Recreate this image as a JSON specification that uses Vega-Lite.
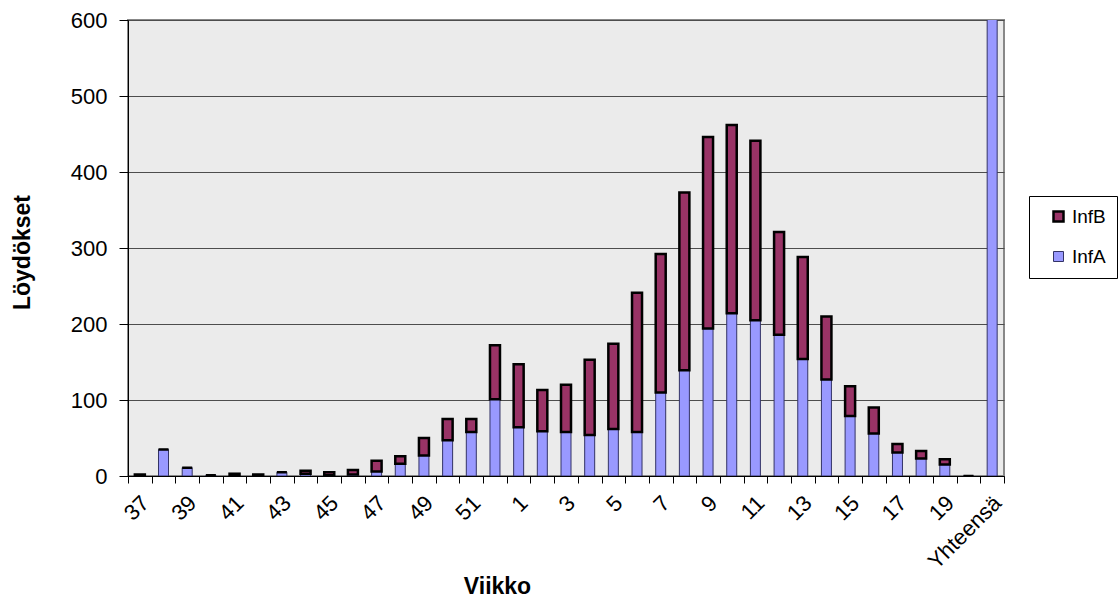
{
  "$schema": "https://vega.github.io/schema/vega-lite/v6.json",
  "width": 876,
  "height": 456,
  "autosize": {"type": "none"},
  "padding": {"left": 128, "top": 20, "right": 114, "bottom": 123},
  "background": "white",
  "config": {
    "font": "Liberation Sans",
    "view": {"fill": "#EBEBEB", "stroke": "#888888", "strokeWidth": 2},
    "axis": {
      "domainColor": "#000000",
      "tickColor": "#000000",
      "labelColor": "#000000",
      "titleColor": "#000000",
      "labelFont": "Liberation Sans",
      "titleFont": "Liberation Sans"
    }
  },
  "data": {
    "values": [
      {"viikko": "37", "InfA": 1, "InfB": 1},
      {"viikko": "38", "InfA": 35, "InfB": 0},
      {"viikko": "39", "InfA": 11, "InfB": 0},
      {"viikko": "40", "InfA": 1, "InfB": 0},
      {"viikko": "41", "InfA": 0, "InfB": 3},
      {"viikko": "42", "InfA": 0, "InfB": 2},
      {"viikko": "43", "InfA": 5, "InfB": 0},
      {"viikko": "44", "InfA": 3, "InfB": 4},
      {"viikko": "45", "InfA": 1, "InfB": 4},
      {"viikko": "46", "InfA": 2, "InfB": 6},
      {"viikko": "47", "InfA": 6, "InfB": 14},
      {"viikko": "48", "InfA": 16, "InfB": 10},
      {"viikko": "49", "InfA": 27, "InfB": 23},
      {"viikko": "50", "InfA": 47, "InfB": 28},
      {"viikko": "51", "InfA": 58, "InfB": 17},
      {"viikko": "52", "InfA": 101, "InfB": 71},
      {"viikko": "1", "InfA": 64, "InfB": 83},
      {"viikko": "2", "InfA": 59, "InfB": 54},
      {"viikko": "3", "InfA": 58, "InfB": 62},
      {"viikko": "4", "InfA": 54, "InfB": 99},
      {"viikko": "5", "InfA": 62, "InfB": 112},
      {"viikko": "6", "InfA": 58, "InfB": 183},
      {"viikko": "7", "InfA": 110, "InfB": 182},
      {"viikko": "8", "InfA": 139, "InfB": 234},
      {"viikko": "9", "InfA": 194, "InfB": 252},
      {"viikko": "10", "InfA": 214, "InfB": 248},
      {"viikko": "11", "InfA": 205, "InfB": 236},
      {"viikko": "12", "InfA": 186, "InfB": 135},
      {"viikko": "13", "InfA": 154, "InfB": 134},
      {"viikko": "14", "InfA": 127, "InfB": 83},
      {"viikko": "15", "InfA": 79, "InfB": 39},
      {"viikko": "16", "InfA": 56, "InfB": 34},
      {"viikko": "17", "InfA": 31, "InfB": 11},
      {"viikko": "18", "InfA": 23, "InfB": 10},
      {"viikko": "19", "InfA": 15, "InfB": 7},
      {"viikko": "20", "InfA": 0, "InfB": 0},
      {"viikko": "Yhteensä", "InfA": 2202, "InfB": 2381}
    ]
  },
  "transform": [{"fold": ["InfA", "InfB"], "as": ["sarja", "arvo"]}],
  "mark": {"type": "bar", "size": 10, "clip": true},
  "encoding": {
    "x": {
      "field": "viikko",
      "type": "ordinal",
      "sort": ["37","38","39","40","41","42","43","44","45","46","47","48","49","50","51","52","1","2","3","4","5","6","7","8","9","10","11","12","13","14","15","16","17","18","19","20","Yhteensä"],
      "scale": {"paddingInner": 0, "paddingOuter": 0},
      "axis": {
        "title": "Viikko",
        "titleFontSize": 23,
        "titleFontWeight": "bold",
        "titleX": 369,
        "titleY": 117,
        "titleAlign": "center",
        "titleBaseline": "alphabetic",
        "labelAngle": -45,
        "labelFontSize": 22,
        "labelPadding": 9,
        "labelOffset": -2,
        "tickBand": "extent",
        "tickSize": 7,
        "labelExpr": "indexof(['37','39','41','43','45','47','49','51','1','3','5','7','9','11','13','15','17','19','Yhteensä'], datum.value) >= 0 ? datum.value : ''",
        "grid": false
      }
    },
    "y": {
      "field": "arvo",
      "type": "quantitative",
      "stack": "zero",
      "scale": {"domain": [0, 600], "nice": false},
      "axis": {
        "title": "Löydökset",
        "titleFontSize": 23,
        "titleFontWeight": "bold",
        "titleX": -99,
        "titleY": 232,
        "titleAlign": "center",
        "titleBaseline": "alphabetic",
        "values": [0, 100, 200, 300, 400, 500, 600],
        "labelFontSize": 22,
        "labelPadding": 12,
        "tickSize": 9,
        "grid": true,
        "gridColor": "#4d4d4d",
        "gridWidth": 1
      }
    },
    "color": {
      "field": "sarja",
      "type": "nominal",
      "scale": {"domain": ["InfB", "InfA"], "range": ["#993366", "#9999FF"]},
      "legend": {
        "title": null,
        "orient": "none",
        "legendX": 901,
        "legendY": 176,
        "labelFontSize": 19,
        "labelFont": "Liberation Sans",
        "labelOffset": 4,
        "symbolType": "square",
        "symbolSize": 100,
        "symbolOffset": 9,
        "rowPadding": 20,
        "padding": 11,
        "strokeColor": "#000000",
        "fillColor": "white",
        "labelLimit": 200
      }
    },
    "stroke": {
      "field": "sarja",
      "type": "nominal",
      "scale": {"domain": ["InfB", "InfA"], "range": ["#000000", "#333366"]}
    },
    "strokeWidth": {
      "field": "sarja",
      "type": "nominal",
      "scale": {"domain": ["InfB", "InfA"], "range": [2.5, 1]}
    },
    "order": {"field": "sarja", "sort": "ascending"}
  }
}
